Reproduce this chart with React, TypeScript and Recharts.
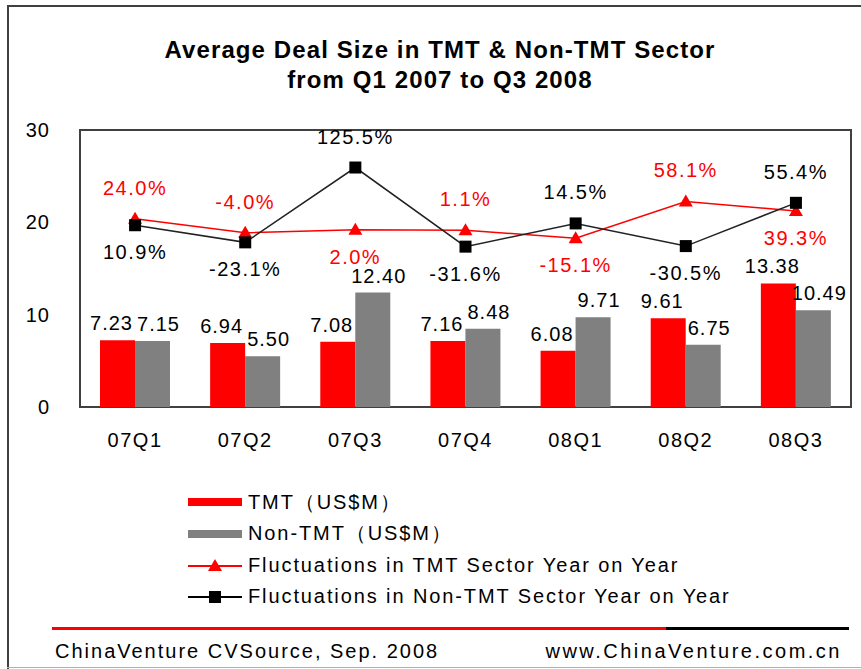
import React from 'react';
import { ComposedChart, Bar, Line, XAxis, YAxis, CartesianGrid, LabelList, ReferenceArea } from 'recharts';

const quarters = ['07Q1', '07Q2', '07Q3', '07Q4', '08Q1', '08Q2', '08Q3'];
const tmtSize = [7.23, 6.94, 7.08, 7.16, 6.08, 9.61, 13.38];
const nonTmtSize = [7.15, 5.5, 12.4, 8.48, 9.71, 6.75, 10.49];
const tmtChange = [24.0, -4.0, 2.0, 1.1, -15.1, 58.1, 39.3];
const nonTmtChange = [10.9, -23.1, 125.5, -31.6, 14.5, -30.5, 55.4];
const sizeTicks = [0, 10, 20, 30];

const titleLines = ['Average Deal Size in TMT & Non-TMT Sector', 'from Q1 2007 to Q3 2008'];
const legendLabels = [
  'TMT（US$M）',
  'Non-TMT（US$M）',
  'Fluctuations in TMT Sector Year on Year',
  'Fluctuations in Non-TMT Sector Year on Year',
];
const sourceText = 'ChinaVenture CVSource, Sep. 2008';
const siteText = 'www.ChinaVenture.com.cn';

const data = quarters.map((q, i) => ({
  q,
  tmt: tmtSize[i],
  non: nonTmtSize[i],
  tmtChg: tmtChange[i],
  nonChg: nonTmtChange[i],
}));

const RED = '#ff0000';
const GRAY = '#808080';
const FONT = "'Liberation Sans', Arial, sans-serif";

const makeBarLabel = (dx: number) => (props: any) => {
  const { x, y, width, value } = props;
  return (
    <text x={x + width / 2 + dx} y={y - 17} textAnchor="middle" dominantBaseline="central"
      fontSize={20} letterSpacing={1} fill="#000" fontFamily={FONT}>
      {Number(value).toFixed(2)}
    </text>
  );
};

const makeLineLabel = (own: number[], other: number[], color: string) => (props: any) => {
  const { x, y, index, value } = props;
  const above = own[index] >= other[index];
  const ly = above ? y - 31 : y + 27;
  return (
    <text x={x} y={ly} textAnchor="middle" dominantBaseline="central"
      fontSize={20} letterSpacing={1.5} fill={color} fontFamily={FONT}>
      {Number(value).toFixed(1) + '%'}
    </text>
  );
};

const triangleDot = (props: any) => {
  const { cx, cy, index } = props;
  if (cx == null || cy == null) return <g key={index} />;
  return <path key={index} d={`M${cx},${cy - 7} L${cx + 7},${cy + 5} L${cx - 7},${cy + 5} Z`} fill={RED} />;
};

const squareDot = (props: any) => {
  const { cx, cy, index } = props;
  if (cx == null || cy == null) return <g key={index} />;
  return <rect key={index} x={cx - 6} y={cy - 6} width={12} height={12} fill="#000" />;
};

const LegendIcon = ({ kind }: { kind: number }) => {
  if (kind === 0) return <svg width={56} height={14}><rect x={0} y={3} width={54} height={8} fill={RED} /></svg>;
  if (kind === 1) return <svg width={56} height={14}><rect x={0} y={3} width={54} height={8} fill={GRAY} /></svg>;
  if (kind === 2)
    return (
      <svg width={56} height={14}>
        <line x1={0} y1={8} x2={54} y2={8} stroke={RED} strokeWidth={2} />
        <path d="M27,1 L34,13 L20,13 Z" fill={RED} />
      </svg>
    );
  return (
    <svg width={56} height={14}>
      <line x1={0} y1={7} x2={54} y2={7} stroke="#000" strokeWidth={2} />
      <rect x={21} y={1} width={12} height={12} fill="#000" />
    </svg>
  );
};

export default function App() {
  return (
    <div style={{ position: 'absolute', left: 0, top: 0, width: 861, height: 669, background: '#fff', overflow: 'hidden', fontFamily: FONT }}>
      <div style={{ position: 'absolute', left: 7, top: 5, width: 854, height: 2, background: '#404040' }} />
      <div style={{ position: 'absolute', left: 7, top: 5, width: 2, height: 664, background: '#404040' }} />
      <div style={{ position: 'absolute', left: 7, top: 667, width: 854, height: 1, background: '#b0b0b0' }} />

      {titleLines.map((t, i) => (
        <div key={i} style={{ position: 'absolute', left: 0, width: 880, top: 36 + i * 30, textAlign: 'center', fontWeight: 'bold', fontSize: 24, letterSpacing: 1.1, lineHeight: '28px', color: '#000' }}>
          {t}
        </div>
      ))}

      <div style={{ position: 'absolute', left: 0, top: 0 }}>
        <ComposedChart width={861} height={460} data={data} margin={{ top: 130, right: 10, bottom: 0, left: 0 }}
          barCategoryGap="18%" barGap={0}>
          <CartesianGrid horizontal vertical={false} stroke="#c0c0c0" strokeWidth={1.5} />
          <XAxis dataKey="q" height={53} tickSize={0} tickMargin={26} axisLine={false}
            tick={{ fontSize: 20, fill: '#000', fontFamily: FONT, letterSpacing: 1.5 }} />
          <YAxis yAxisId="size" width={80} domain={[0, 30]} ticks={sizeTicks} tickSize={0} tickMargin={30} axisLine={false}
            tick={{ fontSize: 20, fill: '#000', fontFamily: FONT, letterSpacing: 1 }} />
          <YAxis yAxisId="pct" orientation="right" hide domain={[-350, 200]} />
          <Bar yAxisId="size" dataKey="tmt" fill={RED} barSize={35} isAnimationActive={false}>
            <LabelList dataKey="tmt" content={makeBarLabel(-6)} />
          </Bar>
          <Bar yAxisId="size" dataKey="non" fill={GRAY} barSize={35} isAnimationActive={false}>
            <LabelList dataKey="non" content={makeBarLabel(6)} />
          </Bar>
          <Line yAxisId="pct" dataKey="tmtChg" stroke={RED} strokeWidth={1.5} dot={triangleDot} activeDot={false} isAnimationActive={false}>
            <LabelList dataKey="tmtChg" content={makeLineLabel(tmtChange, nonTmtChange, RED)} />
          </Line>
          <Line yAxisId="pct" dataKey="nonChg" stroke="#222" strokeWidth={1.5} dot={squareDot} activeDot={false} isAnimationActive={false}>
            <LabelList dataKey="nonChg" content={makeLineLabel(nonTmtChange, tmtChange, '#000')} />
          </Line>
          <ReferenceArea yAxisId="size" y1={0} y2={30} fill="none" stroke="#404040" strokeWidth={2} ifOverflow="visible" />
        </ComposedChart>
      </div>

      {legendLabels.map((l, i) => (
        <div key={i} style={{ position: 'absolute', left: 188, top: 502 + i * 31.5 - 14, height: 28, display: 'flex', alignItems: 'center' }}>
          <LegendIcon kind={i} />
          <span style={{ marginLeft: 4, fontSize: 20, letterSpacing: 1.9, color: '#000', whiteSpace: 'nowrap' }}>{l}</span>
        </div>
      ))}

      <div style={{ position: 'absolute', left: 52, top: 627, width: 614, height: 3, background: RED }} />
      <div style={{ position: 'absolute', left: 666, top: 627, width: 183, height: 3, background: '#000' }} />
      <div style={{ position: 'absolute', left: 55, top: 640, fontSize: 20, letterSpacing: 2, color: '#000', whiteSpace: 'nowrap' }}>{sourceText}</div>
      <div style={{ position: 'absolute', right: 19, top: 640, fontSize: 20, letterSpacing: 2.5, color: '#000', whiteSpace: 'nowrap' }}>{siteText}</div>
    </div>
  );
}
